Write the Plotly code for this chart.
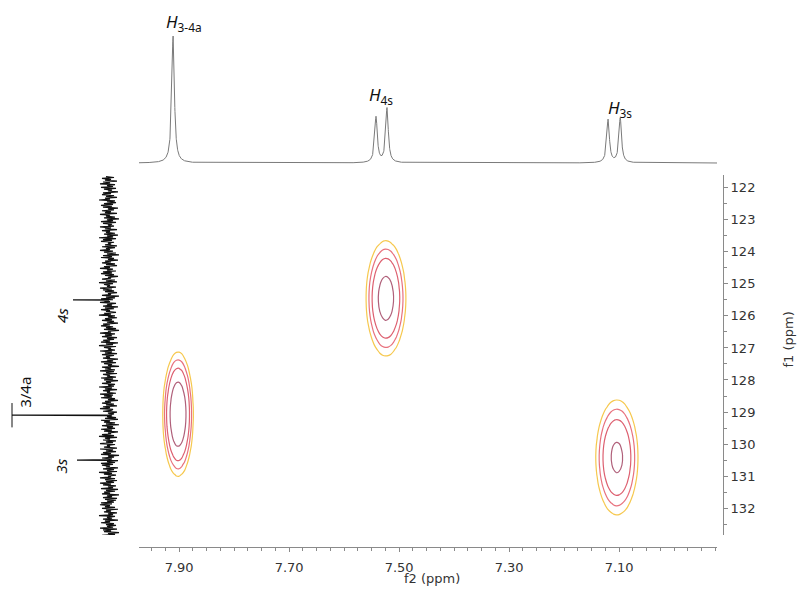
import numpy as np
import plotly.graph_objects as go

W, H = 811, 596

# ---------------- data ----------------
# axis ranges (ppm)
f2_range = [7.973, 6.922]
f1_range = [132.84, 121.6]

# 1H (f2) projection: peak positions (ppm), relative intensities
h_ppm = [7.911, 7.542, 7.522, 7.120, 7.098]
h_int = [100, 36, 43, 34, 35]
h_hwhm = 0.0028

# 1H peak labels
h_lab_text = ["<i>H</i><sub>3-4a</sub>", "<i>H</i><sub>4s</sub>", "<i>H</i><sub>3s</sub>"]
h_lab_ppm = [7.891, 7.533, 7.098]
h_lab_int = [111, 53, 43]

# 13C (f1) projection: noisy baseline + peaks
c_noise = [3,-5,7,-2,4,-8,6,-1,9,-6,2,-4,8,-7,5,-3,1,-9,6,-2,
           7,-5,3,-8,4,-1,10,-6,2,-7,5,-4,8,-3,6,-9,1,-5,7,-2,
           4,-8,9,-1,3,-6,5,-10,2,-4,8,-7,6,-3,1,-5,9,-2,4,-8,
           7,-1,3,-6,5,-9,2,-4,10,-7,6,-3,8,-5,1,-2,4,-8,7,-6,
           3,-1,9,-4,5,-7,2,-10,6,-3,8,-5,1,-9,4,-2,7,-6,3,-8,
           5,-1,9,-4,2,-7,6,-3,8,-5,4,-9,1,-2,7,-6,3,-8,10,-4,
           5,-1,2,-7,9,-3,6,-5,4,-8,1,-2,7,-10,3,-6,8,-4,5,-1,
           9,-7,2,-3,6,-9,4,-5,8,-1,3,-7,5,-2,10,-6,1,-8,4,-3,
           7,-5,2,-9,6,-1,8,-4,3,-7,5,-10,1,-2,9,-6,4,-3,7,-8,
           2,-5,6,-1,8,-9,3,-4,10,-7,5,-2,1,-6,9,-3,4,-8,7,-5,
           3,-1,6,-9,2,-4,8,-7,5,-3,1,-10,7,-2,4,-6,9,-5,3,-8,
           6,-1,2,-7,8,-4,5,-9,3,-2,7,-6,1,-5,10,-3,4,-8,6,-1,
           2,-7,9,-4,5,-3,8,-6,1,-9,4,-2,7,-5,3,-8,6,-1,9,-4,
           -2,6,-8,1,-5,9,-3,2,-7,4,-9,8,-1,5,-6,3,-10,7,-4,2,
           -6,8,-3,5,-9,1,-2,7,-5,10,-8,4,-1,6,-7,3,-4,9,-6,2,
           -1,5,-8,9,-4,3,-7,6,-2,8,-10,1,-5,7,-3,4,-9,2,-6,8,
           -4,7,-1,3,-9,6,-5,2,-8,10,-3,5,-7,1,-2,9,-6,4,-8,3,
           -5,9,-2,6,-7,1,-4,8,-9,3,-6,5,-1,7,-10,2,-3,6,-8,4,
           -7,2,-5,8,-3,9,-1,4,-6,7,-9,3,-2,5,-8,1,-4,10,-6,2,
           -3,6,-9,4,-1,8,-5,3,-7,2,-4,9,-8,6,-2,5,-10,1,-6,7]
c_noise_start, c_noise_end = 121.65, 132.85
c_peak_ppm = [125.5, 129.1, 130.5]
c_peak_int = [36, 97, 32]
c_lab_text = ["<i>4s</i>", "3/4a", "<i>3s</i>"]
c_lab_ppm = [126.0, 128.4, 130.7]
c_lab_int = [47, 84, 48]

# HSQC cross peaks
x_f2 = [7.902, 7.524, 7.104]
x_f1 = [129.07, 125.45, 130.42]
x_amp = [1.0, 0.74, 0.64]
x_sig2 = [0.0135, 0.019, 0.021]
x_sig1 = [0.94, 0.94, 0.98]
levels = [0.122, 0.198, 0.31, 0.565]
level_colors = ["#F6C84E", "#E8727E", "#DD6070", "#B0607A"]

# tick labels
f2_tickvals = [7.90, 7.70, 7.50, 7.30, 7.10]
f2_ticktext = ["7.90", "7.70", "7.50", "7.30", "7.10"]
f1_tickvals = list(range(122, 133))
f1_ticktext = [str(v) for v in f1_tickvals]

# ---------------- figure ----------------
fig = go.Figure()

# 1H projection (Lorentzian lines)
xh = np.linspace(f2_range[1], f2_range[0], 5000)
yh = np.zeros_like(xh)
for p, a in zip(h_ppm, h_int):
    yh += a / (1 + ((xh - p) / h_hwhm) ** 2)
fig.add_trace(go.Scatter(x=xh, y=yh, mode="lines", line=dict(color="#7a7a7a", width=1),
                         xaxis="x2", yaxis="y2", hoverinfo="skip", showlegend=False))

# 13C projection
c_ppm = list(np.linspace(c_noise_start, c_noise_end, len(c_noise)))
pts = list(zip(c_ppm, c_noise))
for p, a in zip(c_peak_ppm, c_peak_int):
    pts += [(p - 0.012, 0), (p, a), (p + 0.012, 0)]
pts.sort(key=lambda t: t[0])
fig.add_trace(go.Scatter(x=[t[1] for t in pts], y=[t[0] for t in pts], mode="lines",
                         line=dict(color="#111111", width=1.2), xaxis="x3", yaxis="y3",
                         hoverinfo="skip", showlegend=False))
# tip marker of the strongest 13C line
i_max = int(np.argmax(c_peak_int))
fig.add_trace(go.Scatter(x=[c_peak_int[i_max]] * 2,
                         y=[c_peak_ppm[i_max] - 0.38, c_peak_ppm[i_max] + 0.38], mode="lines",
                         line=dict(color="#111111", width=1), xaxis="x3", yaxis="y3",
                         hoverinfo="skip", showlegend=False))

# HSQC contours
gx = np.arange(6.93, 7.97, 0.005)
gy = np.arange(121.65, 132.85, 0.3)
GX, GY = np.meshgrid(gx, gy)
Z = np.zeros_like(GX)
for cx, cy, a, sx, sy in zip(x_f2, x_f1, x_amp, x_sig2, x_sig1):
    Z += a * np.exp(-0.5 * (((GX - cx) / sx) ** 2 + ((GY - cy) / sy) ** 2))
for lv, col in zip(levels, level_colors):
    fig.add_trace(go.Contour(x=gx, y=gy, z=Z, autocontour=False,
                             contours=dict(start=lv, end=lv, size=1, coloring="none"),
                             line=dict(color=col, width=1.2), showscale=False,
                             hoverinfo="skip", xaxis="x", yaxis="y"))

# ---------------- layout ----------------
px = lambda v: v / W
py = lambda v: 1 - v / H
tickfont = dict(family="DejaVu Sans", size=13, color="#333333")
axcol = "#8a8a8a"

fig.update_layout(
    width=W, height=H, margin=dict(l=0, r=0, t=0, b=0),
    paper_bgcolor="white", plot_bgcolor="rgba(0,0,0,0)", showlegend=False,
    xaxis=dict(domain=[px(139), px(717)], range=f2_range, anchor="free", position=py(547),
               showgrid=False, zeroline=False, showline=True, linecolor=axcol, linewidth=1,
               tickmode="array", tickvals=f2_tickvals, ticktext=f2_ticktext,
               ticks="outside", ticklen=4, tickcolor=axcol, tickfont=tickfont,
               ticklabelstandoff=4,
               minor=dict(dtick=0.025, tick0=0, ticks="outside", ticklen=3, tickcolor=axcol)),
    yaxis=dict(domain=[py(535), py(175)], range=f1_range, side="right", anchor="free",
               position=px(723), showgrid=False, zeroline=False, showline=True,
               linecolor=axcol, linewidth=1, tickmode="array", tickvals=f1_tickvals,
               ticktext=f1_ticktext, ticks="outside", ticklen=4, tickcolor=axcol,
               tickfont=tickfont,
               minor=dict(dtick=0.5, tick0=0, ticks="outside", ticklen=3, tickcolor=axcol)),
    xaxis2=dict(domain=[px(139), px(717)], range=f2_range, anchor="y2", visible=False),
    yaxis2=dict(domain=[py(170), 1], range=[-5.5, 128.4], anchor="x2", visible=False),
    xaxis3=dict(domain=[0, px(139)], range=[109, -30], anchor="y3", visible=False),
    yaxis3=dict(domain=[py(535), py(175)], range=f1_range, anchor="x3", visible=False),
)

ann = []
for t, xv, yv in zip(h_lab_text, h_lab_ppm, h_lab_int):
    ann.append(dict(x=xv, y=yv, xref="x2", yref="y2", text=t, showarrow=False,
                    font=dict(family="Noto Sans", size=17, color="#111111")))
for t, xv, yv in zip(c_lab_text, c_lab_int, c_lab_ppm):
    ann.append(dict(x=xv, y=yv, xref="x3", yref="y3", text=t, showarrow=False, textangle=-90,
                    font=dict(family="Noto Sans", size=15, color="#111111")))
ann.append(dict(x=px(432), y=py(587), xref="paper", yref="paper", text="f2 (ppm)",
                showarrow=False, font=tickfont, borderpad=0))
ann.append(dict(x=px(797), y=py(340), xref="paper", yref="paper", text="f1 (ppm)",
                showarrow=False, textangle=-90, font=tickfont))
fig.update_layout(annotations=ann)

fig.write_html("out.html")
